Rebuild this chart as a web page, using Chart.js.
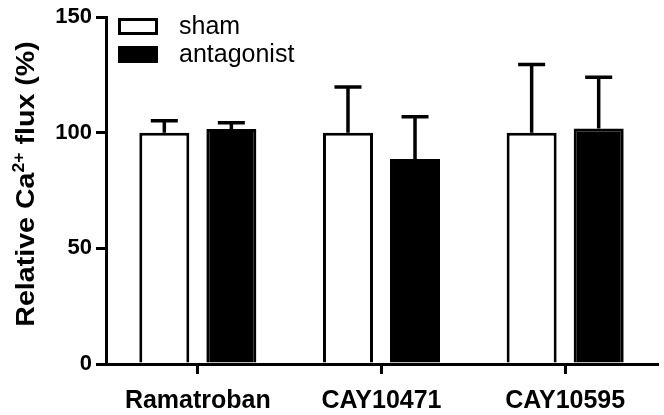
<!DOCTYPE html>
<html>
<head>
<meta charset="utf-8">
<script src="https://cdn.jsdelivr.net/npm/chart.js@4"></script>
<style>
  html, body { margin: 0; padding: 0; background: #fff; }
  #wrap { width: 664px; height: 415px; }
</style>
</head>
<body>
<div id="wrap"><canvas id="grafik"></canvas></div>
<script>
// data
const categories = ['Ramatroban', 'CAY10471', 'CAY10595'];
const shamValues = [100, 100, 100];
const shamErrors = [5.2, 19.8, 29.5];
const antagonistValues = [101.6, 88.7, 101.9];
const antagonistErrors = [2.8, 18.2, 22.1];
const yTicks = [0, 50, 100, 150];

const FONT = "'Liberation Sans', Arial, Helvetica, sans-serif";

// error bars (upper only), drawn over the bars
const errorBarPlugin = {
  id: 'errorBars',
  afterDatasetsDraw(chart) {
    const ctx = chart.ctx;
    const y = chart.scales.y;
    chart.data.datasets.forEach((ds, i) => {
      const meta = chart.getDatasetMeta(i);
      meta.data.forEach((bar, j) => {
        const top = y.getPixelForValue(ds.data[j] + ds.errors[j]);
        const base = y.getPixelForValue(ds.data[j]);
        ctx.save();
        ctx.strokeStyle = '#000';
        ctx.lineWidth = 3.5;
        ctx.lineCap = 'butt';
        ctx.beginPath();
        ctx.moveTo(bar.x, base);
        ctx.lineTo(bar.x, top);
        ctx.moveTo(bar.x - 13.5, top);
        ctx.lineTo(bar.x + 13.5, top);
        ctx.stroke();
        ctx.restore();
      });
    });
  }
};

// legend top-left inside plot + rotated y title with superscript
const decorPlugin = {
  id: 'decor',
  afterDraw(chart) {
    const ctx = chart.ctx;
    ctx.save();
    // legend
    chart.data.datasets.forEach((ds, i) => {
      const by = 18 + i * 28;
      ctx.fillStyle = ds.backgroundColor;
      ctx.fillRect(118, by, 40, 17);
      ctx.strokeStyle = '#000';
      ctx.lineWidth = 3;
      ctx.strokeRect(119.5, by + 1.5, 37, 14);
      ctx.fillStyle = '#000';
      ctx.font = '25px ' + FONT;
      ctx.textBaseline = 'middle';
      ctx.textAlign = 'left';
      ctx.fillText(ds.label, 179, by + 9);
    });
    // y title
    ctx.translate(34, 184);
    ctx.rotate(-Math.PI / 2);
    ctx.scale(1.1, 1);
    ctx.fillStyle = '#000';
    ctx.textBaseline = 'alphabetic';
    ctx.textAlign = 'left';
    const big = 'bold 26px ' + FONT;
    const small = 'bold 16px ' + FONT;
    const parts = [['Relative Ca', big, 0], ['2+', small, -10], [' flux (%)', big, 0]];
    let total = 0;
    parts.forEach(p => { ctx.font = p[1]; total += ctx.measureText(p[0]).width; });
    let x = -total / 2;
    parts.forEach(p => {
      ctx.font = p[1];
      ctx.fillText(p[0], x, p[2]);
      x += ctx.measureText(p[0]).width;
    });
    ctx.restore();
  }
};

new Chart(document.getElementById('grafik'), {
  type: 'bar',
  data: {
    labels: categories,
    datasets: [
      { label: 'sham', data: shamValues, errors: shamErrors,
        backgroundColor: '#ffffff', borderColor: '#000000', borderWidth: 3 },
      { label: 'antagonist', data: antagonistValues, errors: antagonistErrors,
        backgroundColor: '#000000', borderColor: '#000000', borderWidth: 3 }
    ]
  },
  options: {
    responsive: true,
    maintainAspectRatio: false,
    animation: false,
    categoryPercentage: 0.73,
    barPercentage: 0.746,
    layout: { padding: { top: 16, right: 7, left: 0, bottom: 0 } },
    plugins: { legend: { display: false }, tooltip: { enabled: false } },
    scales: {
      x: {
        grid: { offset: false, drawOnChartArea: false, drawTicks: true, tickLength: 10, color: '#000', lineWidth: 3 },
        border: { display: true, color: '#000', width: 3 },
        ticks: { color: '#000', font: { family: FONT, size: 25, weight: 'bold' }, padding: 12, maxRotation: 0 },
        afterFit(scale) { scale.height = 51; }
      },
      y: {
        min: 0, max: 150,
        afterBuildTicks(scale) { scale.ticks = yTicks.map(v => ({ value: v })); },
        grid: { drawOnChartArea: false, drawTicks: true, tickLength: 10, color: '#000', lineWidth: 3 },
        border: { display: true, color: '#000', width: 3 },
        ticks: { color: '#000', font: { family: FONT, size: 22, weight: 'bold' }, padding: 4 },
        afterFit(scale) { scale.width = 106; }
      }
    }
  },
  plugins: [errorBarPlugin, decorPlugin]
});
</script>
</body>
</html>
